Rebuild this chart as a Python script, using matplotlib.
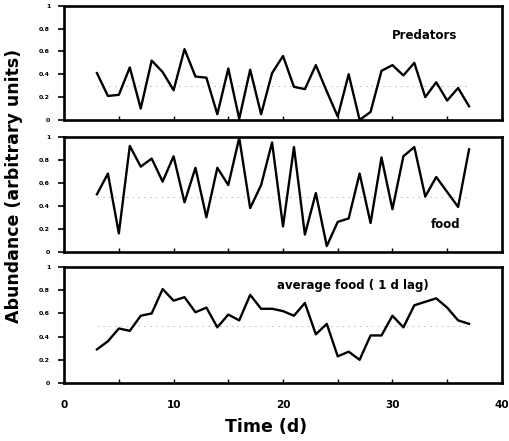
import matplotlib.pyplot as plt
from matplotlib.ticker import MultipleLocator

days = list(range(3, 38))

predators = [0.41, 0.21, 0.22, 0.46, 0.10, 0.52, 0.42, 0.26, 0.62, 0.38, 0.37,
             0.05, 0.45, 0.01, 0.44, 0.05, 0.41, 0.56, 0.29, 0.27, 0.48, 0.25,
             0.03, 0.40, 0.00, 0.07, 0.43, 0.48, 0.39, 0.50, 0.20, 0.33, 0.17,
             0.28, 0.12]

food = [0.50, 0.68, 0.16, 0.92, 0.74, 0.81, 0.61, 0.83, 0.43, 0.73, 0.30,
        0.73, 0.58, 0.99, 0.38, 0.58, 0.95, 0.22, 0.91, 0.15, 0.51, 0.05,
        0.26, 0.29, 0.68, 0.25, 0.82, 0.37, 0.83, 0.91, 0.48, 0.65, 0.52,
        0.39, 0.89]

avg_food = [0.29, 0.36, 0.47, 0.45, 0.58, 0.60, 0.81, 0.71, 0.74, 0.61, 0.65,
            0.48, 0.59, 0.54, 0.76, 0.64, 0.64, 0.62, 0.58, 0.69, 0.42, 0.51,
            0.23, 0.27, 0.20, 0.41, 0.41, 0.58, 0.48, 0.67, 0.70, 0.73, 0.65,
            0.54, 0.51]

mean_levels = [0.30, 0.48, 0.49]
labels = ['Predators', 'food', 'average food ( 1 d lag)']
label_pos = [(32.9, 0.74), (34.9, 0.24), (26.4, 0.845)]

yticks = [0, 0.2, 0.4, 0.6, 0.8, 1]
yticklabels = ['0', '0.2', '0.4', '0.6', '0.8', '1']

plt.rcParams['font.family'] = ['DejaVu Sans']
plt.rcParams['font.weight'] = 'bold'

fig = plt.figure(figsize=(5.09, 4.41), dpi=100)
boxes = [(0.126, 0.728, 0.860, 0.259),
         (0.126, 0.429, 0.860, 0.261),
         (0.126, 0.1315, 0.860, 0.263)]
series = [predators, food, avg_food]

for i in range(3):
    ax = fig.add_axes(boxes[i])
    ax.plot([3, 37], [mean_levels[i], mean_levels[i]], color='0.7',
            linestyle=(0, (2, 5)), lw=0.6)
    ax.plot(days, series[i], color='black', lw=1.7)
    ax.set_xlim(0, 40)
    ax.set_ylim(0, 1)
    ax.set_yticks(yticks)
    ax.set_yticklabels(yticklabels, fontsize=4.5, fontweight='bold')
    ax.xaxis.set_major_locator(MultipleLocator(10))
    ax.xaxis.set_minor_locator(MultipleLocator(5))
    ax.tick_params(axis='y', direction='out', length=4, width=1.2, pad=6)
    ax.tick_params(axis='x', which='both', direction='in', length=3, width=1)
    for s in ax.spines.values():
        s.set_linewidth(1.9)
    ax.text(label_pos[i][0], label_pos[i][1], labels[i], fontsize=8.5,
            fontweight='bold', ha='center', va='center')
    if i < 2:
        ax.set_xticklabels([])
    else:
        ax.tick_params(axis='x', labelsize=7.5, pad=12)

fig.text(0.523, 0.032, 'Time (d)', fontsize=12.5, fontweight='bold',
         ha='center', va='center')
fig.text(0.028, 0.578, 'Abundance (arbitrary units)', rotation=90,
         fontsize=12.5, fontweight='bold', ha='center', va='center')

plt.savefig('out.png', dpi=100)
